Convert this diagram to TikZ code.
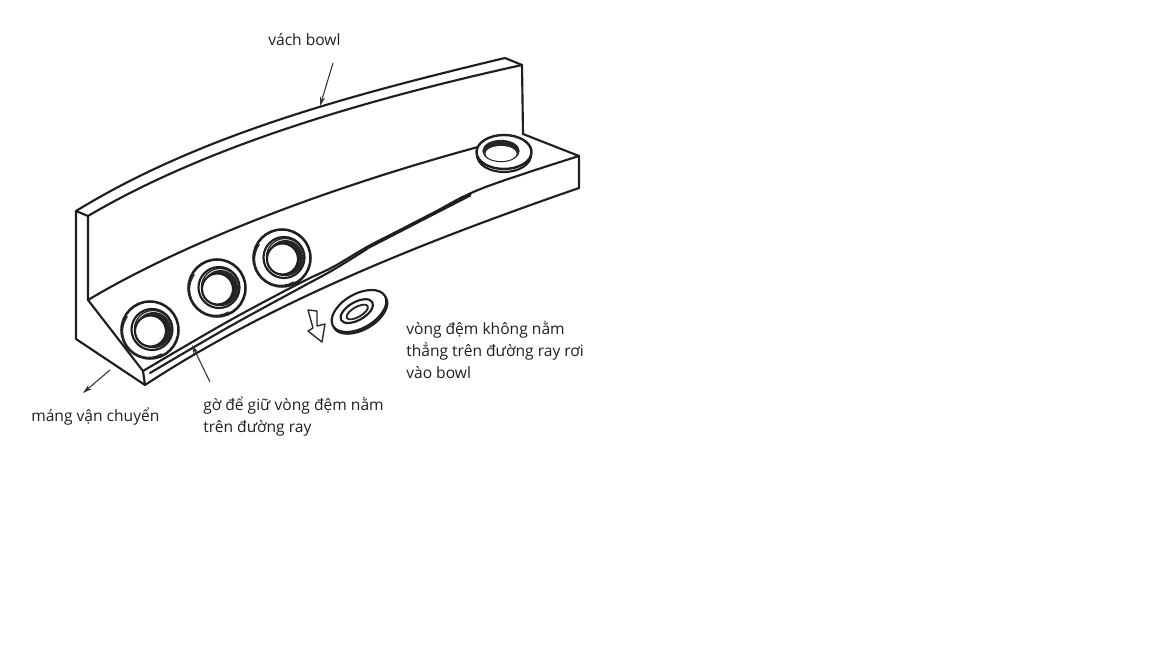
\documentclass[tikz,border=0pt]{standalone}
\usepackage{fontspec}
\setmainfont{Open Sans}
\usetikzlibrary{arrows.meta}
\tikzset{
 ink/.style={line width=1.6pt,line cap=round,line join=round,draw=black!88},
 thin ink/.style={line width=1pt,line cap=round,line join=round,draw=black!85},
 pointer/.style={line width=.8pt,draw=black!80,-{Stealth[length=7pt,width=4pt]}},
 lbl/.style={font=\fontsize{11.7pt}{16.5pt}\selectfont,text=black!88,inner sep=0,align=left,anchor=north west},
}
\newcommand{\washer}[2]{% x,y
 \begin{scope}[shift={(#1,#2)}]
  \fill[white] (0,0) circle[radius=29];
  \draw[ink,line width=1.9pt] (0,0) circle[radius=28.5];
  \draw[thin ink] (-1.5,1.5) ++(60:26) arc[start angle=60,end angle=215,radius=26];
  \draw[ink] (2,-.5) circle[radius=20.5];
  \draw[thin ink,fill=white] (3,-1) circle[radius=18.5];
  \fill[black!85] (3.5,-.5) circle[radius=17.5];
  \draw[ink,fill=white] (.5,1) circle[radius=15.5];
 \end{scope}}
\begin{document}
\begin{tikzpicture}[x=.75pt,y=-.75pt]
\useasboundingbox (0,0) rectangle (1152,648);
% wall
\draw[ink] (76,211) .. controls (200,135) and (350,95) .. (505,58) -- (522,65);
\draw[ink] (76,211) -- (88,216) .. controls (200,150) and (350,103) .. (522,65);
\draw[ink] (76,211) -- (76,339) -- (145,385) -- (143,371);
\draw[ink] (88,216) -- (88,300) -- (143,371);
\draw[ink] (522,65) -- (523,134);
% floor
\draw[ink] (88,300) .. controls (180,245) and (320,190) .. (478,147);
\draw[ink] (523,134) -- (579,156) -- (579,188);
% rim
\draw[ink] plot[smooth,tension=.6] coordinates {(143,371) (227,322) (300,283) (333,267) (367,247) (400,230) (433,213) (483,188) (579,156)};
\draw[ink] plot[smooth,tension=.6] coordinates {(150,373) (227,328) (300,288) (333,270) (367,249)};
\draw[ink,line width=2.4pt] plot[smooth,tension=.6] coordinates {(367,248) (400,231) (433,214) (470,195)};
\draw[ink] (145,385) .. controls (270,303) and (420,243) .. (579,188);
% washers
\washer{150}{330}
\washer{217}{288}
\washer{282}{258}
% far washer
\fill[white] (504,153) ellipse[x radius=28,y radius=19];
\draw[ink] (504,155) ellipse[x radius=27,y radius=17];
\draw[ink,line width=1.8pt,fill=white] (504,152) ellipse[x radius=27.5,y radius=17];
\draw[thin ink] (501,151) ellipse[x radius=18,y radius=10.5];
\fill[black!85] (501,150.5) ellipse[x radius=17.5,y radius=10];
\fill[white] (501,153.5) ellipse[x radius=15.5,y radius=7.5];
% fallen washer
\begin{scope}[shift={(359,311)},rotate=30]
 \draw[ink] (0,2) ellipse[x radius=30,y radius=17];
 \draw[ink,fill=white] (0,0) ellipse[x radius=30,y radius=17];
 \draw[ink] (-2,-1) ellipse[x radius=18,y radius=9];
 \draw[thin ink,line width=1.4pt] (-2,0) ellipse[x radius=12,y radius=5];
\end{scope}
% hollow arrow
\draw[thin ink,fill=white] (308,310) -- (317,311) -- (317,326) -- (325,324) -- (322,342) -- (308,331) -- (313,328) -- cycle;
% labels
\node[lbl] (t1) at (268,33) {vách bowl};
\node[lbl] (t2) at (406,321) {vòng đệm không nằm\\thẳng trên đường ray rơi\\vào bowl};
\node[lbl] (t3) at (203,397) {gờ để giữ vòng đệm nằm\\trên đường ray};
\node[lbl] (t4) at (31,408) {máng vận chuyển};
% pointers
\coordinate (a1s) at (333,63); \coordinate (a1e) at (320,106);
\coordinate (a2s) at (210,382); \coordinate (a2e) at (192,345);
\coordinate (a3s) at (110,370); \coordinate (a3e) at (83,393);
\draw[pointer] (a1s) -- (a1e);
\draw[pointer] (a2s) -- (a2e);
\draw[pointer] (a3s) -- (a3e);
\end{tikzpicture}
\end{document}
